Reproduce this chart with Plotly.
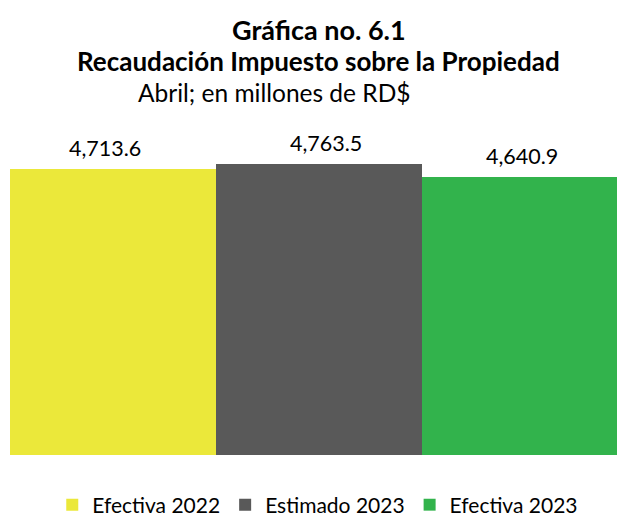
import plotly.graph_objects as go

categories = ["Efectiva 2022", "Estimado 2023", "Efectiva 2023"]
values = [4713.6, 4763.5, 4640.9]
labels = ["4,713.6", "4,763.5", "4,640.9"]
colors = ["#EBE83A", "#595959", "#32B34C"]
label_dx = [-8, 7, -3]  # small horizontal label offsets seen in the reference

FONT = "Lato"
W, H = 617, 516
ML, MR, MT, MB = 10, 0, 130, 61

fig = go.Figure()
for c, v, col in zip(categories, values, colors):
    fig.add_trace(go.Bar(
        x=[c], y=[v], name=c, marker=dict(color=col, line=dict(width=0)),
        hoverinfo="x+y",
    ))
for c, v, t, dx in zip(categories, values, labels, label_dx):
    fig.add_annotation(x=c, y=v, text=t, showarrow=False, xref="x", yref="y",
                       yanchor="bottom", yshift=6, xshift=dx,
                       font=dict(family=FONT, size=21.5, color="#000000"))

ph = H - MT - MB
pw = W - ML - MR
def ypaper(py):
    return (H - MB - py) / ph
def xpaper(px):
    return (px - ML) / pw

fig.update_layout(
    width=W, height=H,
    margin=dict(l=ML, r=MR, t=MT, b=MB),
    paper_bgcolor="white", plot_bgcolor="white",
    barmode="overlay", bargap=0,
    showlegend=True,
    legend=dict(orientation="h", xref="container", yref="container",
                x=0.515, xanchor="center", y=(H - 505) / H, yanchor="middle",
                font=dict(family=FONT, size=21, color="#000000"),
                itemwidth=30, tracegroupgap=0),
    xaxis=dict(visible=False, range=[-0.5, 2.447], type="category"),
    yaxis=dict(visible=False, range=[2000, 5086]),
)
fig.add_annotation(text="<b>Gráfica no. 6.1</b>", x=xpaper(319), y=ypaper(29), xref="paper", yref="paper",
                   showarrow=False, font=dict(family=FONT, size=27, color="#000"), yanchor="middle")
fig.add_annotation(text="<b>Recaudación Impuesto sobre la Propiedad</b>", x=xpaper(318), y=ypaper(61),
                   xref="paper", yref="paper", showarrow=False,
                   font=dict(family=FONT, size=26, color="#000"), yanchor="middle")
fig.add_annotation(text="Abril; en millones de RD$", x=xpaper(274), y=ypaper(93),
                   xref="paper", yref="paper", showarrow=False,
                   font=dict(family=FONT, size=24.5, color="#000"), yanchor="middle")

fig.write_html("out.html", config={"displayModeBar": False},
               post_script="document.body.style.margin='0';")
